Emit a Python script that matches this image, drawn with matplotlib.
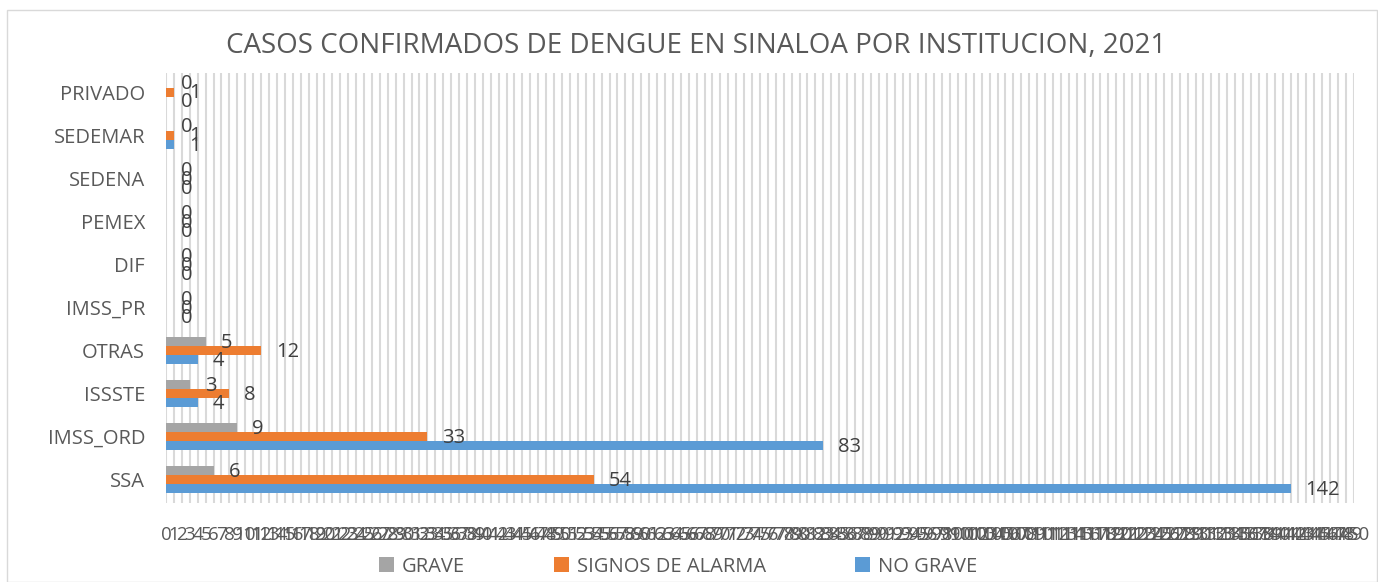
import numpy as np
import matplotlib.pyplot as plt

# data (bottom to top)
categories = ['SSA', 'IMSS_ORD', 'ISSSTE', 'OTRAS', 'IMSS_PR', 'DIF', 'PEMEX', 'SEDENA', 'SEDEMAR', 'PRIVADO']
no_grave = [142, 83, 4, 4, 0, 0, 0, 0, 1, 0]
signos_alarma = [54, 33, 8, 12, 0, 0, 0, 0, 1, 1]
grave = [6, 9, 3, 5, 0, 0, 0, 0, 0, 0]

series_names = ['NO GRAVE', 'SIGNOS DE ALARMA', 'GRAVE']
colors = ['#5b9bd5', '#ed7d31', '#a5a5a5']
text_color = '#595959'

plt.rcParams['font.family'] = ['Open Sans', 'DejaVu Sans']

fig = plt.figure(figsize=(13.78, 5.82), dpi=100)
ax = fig.add_axes([0.1205, 0.135, 0.862, 0.74])

y = np.arange(len(categories))
h = 0.21
offsets = [-h, 0, h]
all_series = [no_grave, signos_alarma, grave]

for vals, off, col, name in zip(all_series, offsets, colors, series_names):
    ax.barh(y + off, vals, height=h, color=col, label=name, zorder=3)
    for yy, v in zip(y + off, vals):
        ax.text(v + 1.9, yy - 0.03, str(v), va='center', ha='left',
                fontsize=14.5, color='#404040', zorder=4)

ax.set_xlim(0, 150)
ax.set_ylim(-0.55, len(categories) - 0.55)
ax.set_xticks(np.arange(0, 151, 1))
ax.set_xticklabels([str(i) for i in range(151)], fontsize=13.5, color=text_color)
ax.xaxis.grid(True, color='#d9d9d9', linewidth=1.5, zorder=0)
ax.set_yticks(y)
ax.set_yticklabels(categories, fontsize=14.5, color=text_color)
ax.tick_params(axis='x', length=0, pad=16)
ax.tick_params(axis='y', length=0, pad=15)
for s in ax.spines.values():
    s.set_visible(False)

fig.suptitle('CASOS CONFIRMADOS DE DENGUE EN SINALOA POR INSTITUCION, 2021',
             x=0.505, y=0.945, fontsize=20, color=text_color)

handles, labels = ax.get_legend_handles_labels()
fig.legend(handles[::-1], labels[::-1], loc='lower center', ncol=3,
           bbox_to_anchor=(0.492, -0.022), frameon=False, fontsize=14.5,
           labelcolor=text_color, handlelength=0.75, handleheight=0.75,
           columnspacing=4.4, handletextpad=0.4)

# outer chart border
fig.patches.append(plt.Rectangle((0.005, 0.0), 0.994, 0.982, transform=fig.transFigure,
                                 fill=False, edgecolor='#d9d9d9', linewidth=1))

fig.savefig('out.png', dpi=100)
